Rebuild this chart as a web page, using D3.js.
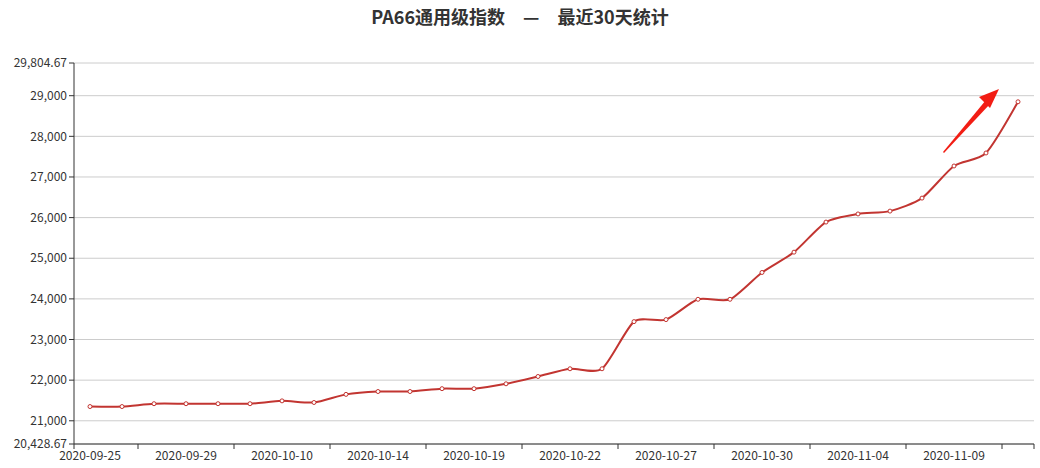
<!DOCTYPE html><html><head><meta charset="utf-8">
<script src="https://cdn.jsdelivr.net/npm/d3@7"></script>
<style>body{margin:0;background:#fff;font-family:"Microsoft YaHei","Noto Sans CJK SC",sans-serif}</style></head><body>
<svg id="c" width="1040" height="468"></svg>
<script>
const dates=["2020-09-25","2020-09-27","2020-09-28","2020-09-29","2020-09-30","2020-10-09","2020-10-10","2020-10-12","2020-10-13","2020-10-14","2020-10-15","2020-10-16","2020-10-19","2020-10-20","2020-10-21","2020-10-22","2020-10-23","2020-10-26","2020-10-27","2020-10-28","2020-10-29","2020-10-30","2020-11-02","2020-11-03","2020-11-04","2020-11-05","2020-11-06","2020-11-09","2020-11-10","2020-11-11"];
const values=[21350,21350,21420,21420,21420,21420,21490,21450,21650,21720,21720,21790,21790,21910,22090,22280,22280,23440,23490,23990,23990,24650,25150,25890,26090,26160,26480,27270,27590,28850];
const yTicks=[20428.67,21000,22000,23000,24000,25000,26000,27000,28000,29000,29804.67];
const title="PA66通用级指数　—　最近30天统计";
const svg=d3.select("#c");
const L=74,R=1034,T=63,B=444;
const x=d3.scaleBand().domain(dates).range([L,R]);
const y=d3.scaleLinear().domain([20428.67,29804.67]).range([B,T]);
svg.append("text").attr("x",520).attr("y",24).attr("text-anchor","middle").attr("font-size",18).attr("font-weight","bold").attr("fill","#333").text(title);
const fmt=d3.format(",");
yTicks.forEach(t=>{
 svg.append("line").attr("x1",L).attr("x2",R).attr("y1",y(t)).attr("y2",y(t)).attr("stroke","#ccc");
 svg.append("line").attr("x1",L-5).attr("x2",L).attr("y1",y(t)).attr("y2",y(t)).attr("stroke","#333");
 svg.append("text").attr("x",L-7).attr("y",y(t)).attr("dy","0.35em").attr("text-anchor","end").attr("font-size",12).attr("fill","#333").text(fmt(t));
});
svg.append("line").attr("x1",L).attr("x2",L).attr("y1",T).attr("y2",B).attr("stroke","#333");
svg.append("line").attr("x1",L).attr("x2",R).attr("y1",B).attr("y2",B).attr("stroke","#333");
dates.forEach((d,i)=>{
 if(i%3===2||i===0) svg.append("line").attr("x1",x(d)).attr("x2",x(d)).attr("y1",B).attr("y2",B+5).attr("stroke","#333");
 if(i%3===0) svg.append("text").attr("x",x(d)+x.bandwidth()/2).attr("y",B+16).attr("text-anchor","middle").attr("font-size",12).attr("fill","#333").text(d);
});
svg.append("line").attr("x1",R).attr("x2",R).attr("y1",B).attr("y2",B+5).attr("stroke","#333");
const pts=dates.map((d,i)=>[x(d)+x.bandwidth()/2,y(values[i])]);
svg.append("path").attr("d",d3.line().curve(d3.curveCardinal.tension(0.3))(pts)).attr("fill","none").attr("stroke","#c23531").attr("stroke-width",2);
svg.selectAll("circle").data(pts).join("circle").attr("cx",p=>p[0]).attr("cy",p=>p[1]).attr("r",2).attr("fill","#fff").attr("stroke","#c23531").attr("stroke-width",1);
// decorative arrow (slim tapered)
svg.append("polygon").attr("points","943,152 986,100 990,104 944,153").attr("fill","#f21d14");
svg.append("polygon").attr("points","999,89 979,97 990,108").attr("fill","#f21d14");
</script></body></html>
